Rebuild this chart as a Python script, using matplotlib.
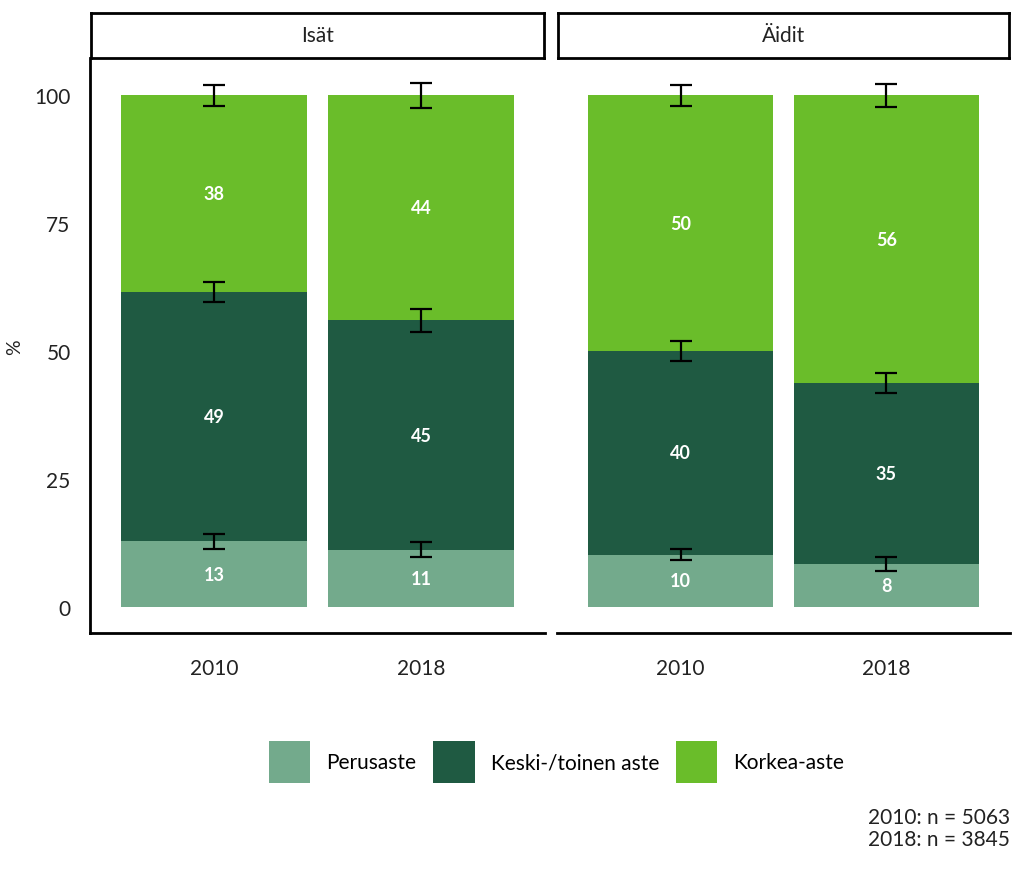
import matplotlib
matplotlib.use("Agg")
import matplotlib.pyplot as plt
from matplotlib.patches import Patch
import numpy as np

plt.rcParams['font.family'] = ['Lato', 'DejaVu Sans']

# Data
panels = ["Isät", "Äidit"]
years = ["2010", "2018"]
categories = ["Perusaste", "Keski-/toinen aste", "Korkea-aste"]
colors = ["#73AA8C", "#1F5A42", "#6ABD2A"]

# shares per panel: rows = years, cols = categories
isat_vals = [[12.8, 48.8, 38.4],
             [11.2, 44.8, 44.0]]
aidit_vals = [[10.2, 39.8, 50.0],
              [8.4, 35.4, 56.2]]
# error half-widths at the top of each stacked segment
isat_err = [[1.4, 2.0, 2.0],
            [1.5, 2.3, 2.4]]
aidit_err = [[1.1, 1.9, 2.0],
             [1.4, 2.0, 2.2]]

caption = "2010: n = 5063\n2018: n = 3845"

fig = plt.figure(figsize=(10.24, 8.78), dpi=100)

W, H = 1024, 878
panel_px = [(90, 545), (557, 1010)]
top_px, bot_px = 59, 634
strip_top = 14

data = [isat_vals, aidit_vals]
errs = [isat_err, aidit_err]

for p, (x0, x1) in enumerate(panel_px):
    ax = fig.add_axes([x0 / W, 1 - bot_px / H, (x1 - x0) / W, (bot_px - top_px) / H])
    vals = np.array(data[p])
    err = np.array(errs[p])
    xpos = np.arange(1, len(years) + 1)
    bottom = np.zeros(len(years))
    for c in range(len(categories)):
        ax.bar(xpos, vals[:, c], 0.9, bottom=bottom, color=colors[c], zorder=2)
        mids = bottom + vals[:, c] / 2
        for i in range(len(years)):
            ax.text(xpos[i], mids[i], "%d" % round(vals[i, c]), ha="center", va="center",
                    color="white", fontsize=13, fontweight="bold", zorder=4)
        bottom = bottom + vals[:, c]
        ax.errorbar(xpos, bottom, yerr=err[:, c], fmt="none", ecolor="black",
                    elinewidth=1.6, capsize=8, capthick=1.6, zorder=3)
    ax.set_xlim(0.4, 2.6)
    ax.set_ylim(-5.1, 107.3)
    ax.set_xticks(xpos)
    ax.set_xticklabels(years, fontsize=15, color="#222222")
    ax.tick_params(axis="x", length=0, pad=18)
    ax.spines["top"].set_visible(False)
    ax.spines["right"].set_visible(False)
    ax.spines["bottom"].set_linewidth(2)
    if p == 0:
        ax.set_yticks([0, 25, 50, 75, 100])
        ax.set_yticklabels(["0", "25", "50", "75", "100"], fontsize=15, color="#222222")
        ax.tick_params(axis="y", length=0, pad=14)
        ax.spines["left"].set_linewidth(2)
    else:
        ax.set_yticks([])
        ax.spines["left"].set_visible(False)

    # facet strip
    sax = fig.add_axes([(x0 + 1) / W, 1 - top_px / H, (x1 - x0 - 2) / W, (top_px - strip_top) / H])
    sax.set_xticks([])
    sax.set_yticks([])
    for s in sax.spines.values():
        s.set_linewidth(2)
    sax.text(0.5, 0.5, panels[p], ha="center", va="center", fontsize=15, color="#222222",
             transform=sax.transAxes)

fig.text(15 / W, 1 - 347 / H, "%", rotation=90, ha="center", va="center", fontsize=14,
         color="#222222")

handles = [Patch(facecolor=colors[i], label=categories[i]) for i in range(len(categories))]
fig.legend(handles=handles, loc="center", bbox_to_anchor=(0.5435, 1 - 763 / H), ncol=3,
           frameon=False, fontsize=15, handlelength=2.0, handleheight=2.7,
           columnspacing=0.8, handletextpad=0.77)

fig.text(1010 / W, 1 - 829 / H, caption, ha="right", va="center", fontsize=15,
         color="#222222", linespacing=1.1)

fig.savefig("out.png", dpi=100)
